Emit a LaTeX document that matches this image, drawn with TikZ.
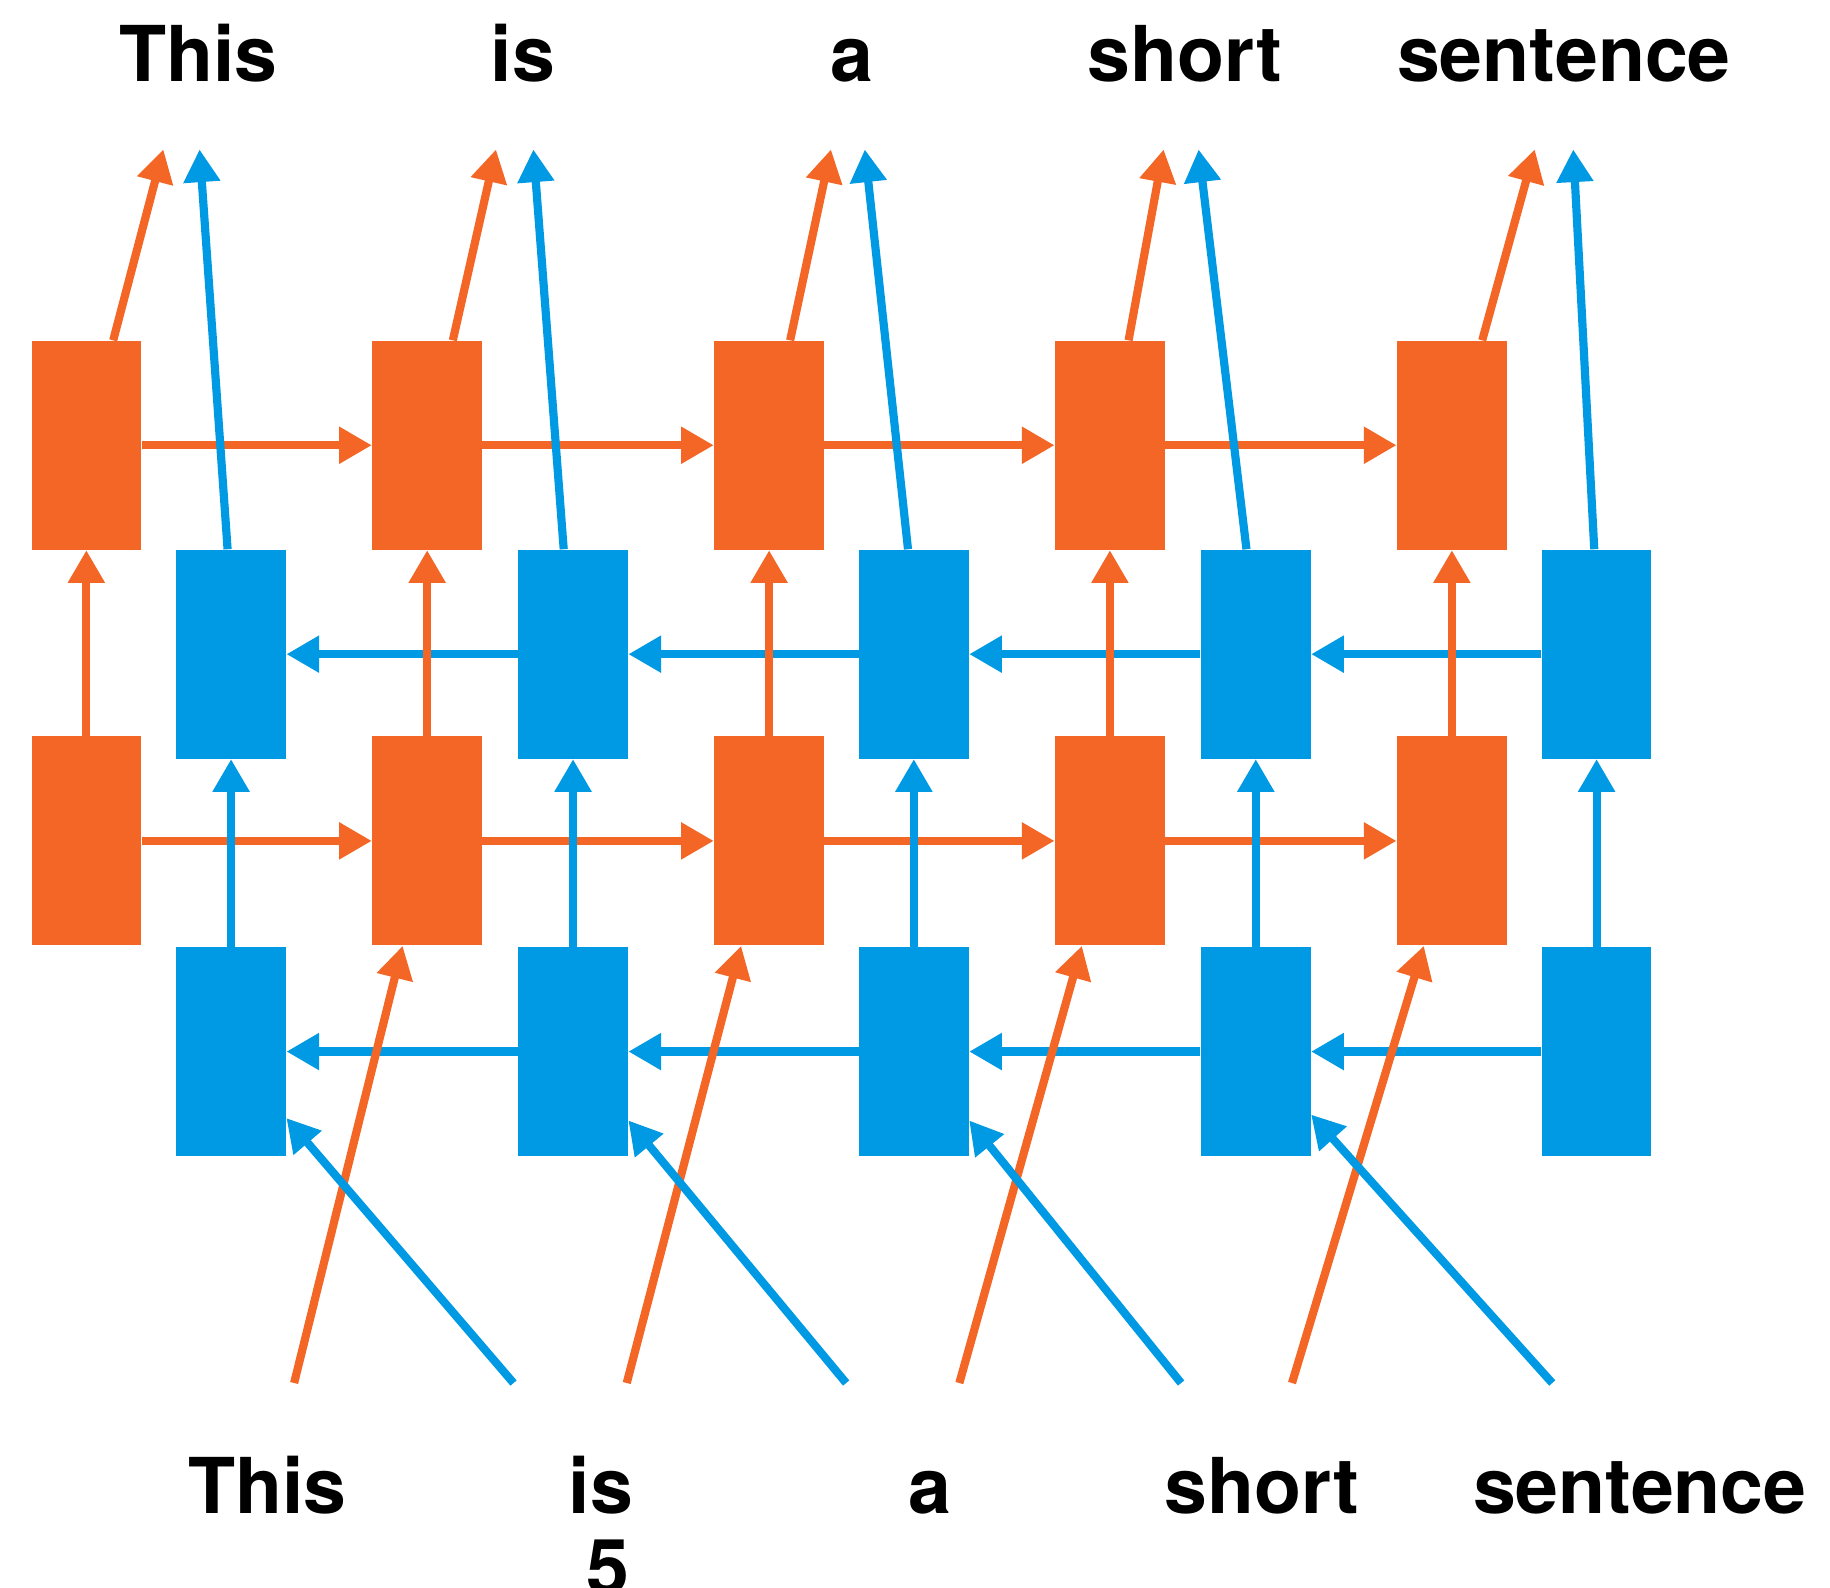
\documentclass[tikz,border=0pt]{standalone}
\usepackage{fontspec}
\setmainfont{TeX Gyre Heros}
\usetikzlibrary{arrows.meta,calc}
\definecolor{fwd}{RGB}{243,102,37}
\definecolor{bwd}{RGB}{0,154,228}
\begin{document}
\begin{tikzpicture}[x=0.5pt,y=-0.5pt,
  cell/.style={rectangle,inner sep=0pt,minimum width=47pt,minimum height=89.5pt},
  fcell/.style={cell,fill=fwd},
  bcell/.style={cell,fill=bwd},
  word/.style={anchor=base,inner sep=0pt,font=\fontsize{33}{37}\selectfont\bfseries},
  link/.style={line width=3.5pt,-{Triangle[length=14pt,width=15pt]}},
  flink/.style={link,draw=fwd,fill=fwd},
  blink/.style={link,draw=bwd,fill=bwd}]
\clip (0,0) rectangle (1568,1360);
\useasboundingbox (0,0) rectangle (1568,1360);

% recurrent cells: forward (orange) and backward (blue), two layers
\foreach \i/\xo/\xb in {1/74/198,2/366/491,3/659/783,4/951/1076,5/1244/1368}{
  \node[fcell] (fa\i) at (\xo,381.5) {};
  \node[bcell] (ba\i) at (\xb,560.5) {};
  \node[fcell] (fb\i) at (\xo,720.5) {};
  \node[bcell] (bb\i) at (\xb,901) {};
}

% words
\foreach \i/\x/\w in {1/170/This,2/448/is,3/730/a,4/1015/short,5/1340/sentence}
  \node[word] (out\i) at (\x,70) {\w};
\foreach \i/\x/\w in {1/229/This,2/515/is,3/797/a,4/1081/short,5/1405/sentence}
  \node[word] (in\i) at (\x,1297) {\w};
\node[word] (num) at (521,1366) {5};

% recurrence along the sequence
\foreach \i/\j in {1/2,2/3,3/4,4/5}{
  \draw[flink] (fa\i.east) -- (fa\j.west);
  \draw[flink] (fb\i.east) -- (fb\j.west);
  \draw[blink] (ba\j.west) -- (ba\i.east);
  \draw[blink] (bb\j.west) -- (bb\i.east);
}

% from first layer to second layer
\foreach \i in {1,...,5}{
  \draw[flink] (fb\i.north) -- (fa\i.south);
  \draw[blink] (bb\i.north) -- (ba\i.south);
}

% outputs of the second layer
\foreach \i/\so/\eo/\sb/\eb in {1/97/140/195/171,2/388/425/483/457,3/677/712/778/741,4/967/997/1068/1027,5/1270/1315/1366/1348}{
  \coordinate (fo\i) at (\eo,128);
  \coordinate (bo\i) at (\eb,128);
  \draw[flink] (fa\i.north -| \so,0) -- (fo\i);
  \draw[blink] (ba\i.north -| \sb,0) -- (bo\i);
}

% inputs to the first layer
\foreach \i/\j/\xs/\xe in {1/2/252/345,2/3/537/635,3/4/822/927,4/5/1107/1220}{
  \coordinate (fi\i) at (\xs,1185);
  \draw[flink] (fi\i) -- (fb\j.south -| \xe,0);
}
\foreach \i/\xs/\ye in {1/440/958,2/725/960,3/1012/960,4/1330/955}{
  \coordinate (bi\i) at (\xs,1185);
  \draw[blink] (bi\i) -- (bb\i.east |- 0,\ye);
}
\end{tikzpicture}
\end{document}
